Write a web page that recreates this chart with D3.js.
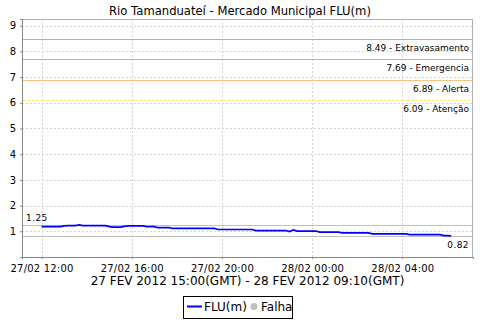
<!DOCTYPE html>
<html>
<head>
<meta charset="utf-8">
<script src="https://cdn.jsdelivr.net/npm/d3@7"></script>
<style>
  body { margin: 0; background: #fff; }
  text { font-family: "DejaVu Sans", sans-serif; }
</style>
</head>
<body>
<div id="chart"></div>
<script>
//Data
var times = ["2012-02-27T12:00", "2012-02-27T12:50", "2012-02-27T13:00", "2012-02-27T13:10",
  "2012-02-27T13:30", "2012-02-27T13:40", "2012-02-27T13:50", "2012-02-27T14:50",
  "2012-02-27T15:00", "2012-02-27T15:10", "2012-02-27T15:30", "2012-02-27T15:40",
  "2012-02-27T15:50", "2012-02-27T16:30", "2012-02-27T16:40", "2012-02-27T17:00",
  "2012-02-27T17:10", "2012-02-27T17:40", "2012-02-27T17:50", "2012-02-27T19:40",
  "2012-02-27T19:50", "2012-02-27T21:20", "2012-02-27T21:30", "2012-02-27T22:50",
  "2012-02-27T23:00", "2012-02-27T23:10", "2012-02-27T23:20", "2012-02-28T00:10",
  "2012-02-28T00:20", "2012-02-28T01:10", "2012-02-28T01:20", "2012-02-28T02:30",
  "2012-02-28T02:40", "2012-02-28T04:10", "2012-02-28T04:20", "2012-02-28T05:40",
  "2012-02-28T05:50", "2012-02-28T06:00", "2012-02-28T06:10"];
var levels = [1.18, 1.18, 1.21, 1.22,
  1.22, 1.25, 1.22, 1.22,
  1.18, 1.16, 1.16, 1.19,
  1.21, 1.21, 1.18, 1.18,
  1.14, 1.14, 1.11, 1.11,
  1.07, 1.07, 1.03, 1.03,
  0.99, 1.05, 1.01, 1.01,
  0.97, 0.97, 0.94, 0.94,
  0.90, 0.90, 0.87, 0.87,
  0.83, 0.83, 0.82];
var thresholdValues = [8.49, 7.69, 6.89, 6.09];
var thresholdNames = ["Extravasamento", "Emergencia", "Alerta", "Atenção"];
var thresholdColors = ["#f09696", "#ff80ff", "#ffc080", "#ffeb9a"];
var maxLevel = 1.25, minLevel = 0.82;
var yTicks = [1, 2, 3, 4, 5, 6, 7, 8, 9];
var xStart = "2012-02-27T11:08", xEnd = "2012-02-28T07:08";
var chartTitle = "Rio Tamanduateí - Mercado Municipal FLU(m)";
var xTitle = "27 FEV 2012 15:00(GMT) - 28 FEV 2012 09:10(GMT)";

//Sizes
var width = 480, height = 320;
var margin = { top: 19, right: 7, bottom: 63, left: 22 };
var plotW = width - margin.left - margin.right;
var plotH = height - margin.top - margin.bottom;

var parseTime = d3.utcParse("%Y-%m-%dT%H:%M");
var data = times.map(function(t, i) { return { date: parseTime(t), value: levels[i] }; });

var x = d3.scaleUtc()
        .domain([parseTime(xStart), parseTime(xEnd)])
        .range([0, plotW]);
var y = d3.scaleLinear()
        .domain([0, 9.26])
        .range([plotH, 0]);

var svg = d3.select("#chart").append("svg")
        .attr("width", width)
        .attr("height", height);

//Title
svg.append("text")
   .attr("x", width / 2)
   .attr("y", 15)
   .attr("text-anchor", "middle")
   .attr("font-size", 11.6)
   .attr("fill", "#000")
   .text(chartTitle);

var g = svg.append("g")
        .attr("transform", "translate(" + margin.left + "," + margin.top + ")");

g.append("rect")
 .attr("width", plotW)
 .attr("height", plotH)
 .attr("fill", "#fff");

//Grid lines
var xTicks = x.ticks(d3.utcHour.every(4));
g.append("g").selectAll("line")
 .data(xTicks)
 .enter()
 .append("line")
 .attr("x1", function(d) { return Math.round(x(d)) + 0.5; })
 .attr("x2", function(d) { return Math.round(x(d)) + 0.5; })
 .attr("y1", 0)
 .attr("y2", plotH)
 .attr("stroke", "#d4d4d4")
 .attr("stroke-dasharray", "2,2");
g.append("g").selectAll("line")
 .data(yTicks)
 .enter()
 .append("line")
 .attr("x1", 0)
 .attr("x2", plotW)
 .attr("y1", function(d) { return Math.round(y(d)) + 0.5; })
 .attr("y2", function(d) { return Math.round(y(d)) + 0.5; })
 .attr("stroke", "#d4d4d4")
 .attr("stroke-dasharray", "2,2");

//Threshold lines + labels
var thr = g.append("g").attr("class", "thresholds");
thr.selectAll("line")
   .data(thresholdValues)
   .enter()
   .append("line")
   .attr("x1", 0).attr("x2", plotW)
   .attr("y1", function(d) { return Math.round(y(d)) + 0.5; })
   .attr("y2", function(d) { return Math.round(y(d)) + 0.5; })
   .attr("stroke", function(d, i) { return thresholdColors[i]; });
thr.selectAll("text")
   .data(thresholdValues)
   .enter()
   .append("text")
   .attr("x", plotW - 4)
   .attr("y", function(d) { return Math.round(y(d)) + 11.5; })
   .attr("text-anchor", "end")
   .attr("font-size", 9)
   .attr("fill", "#000")
   .text(function(d, i) { return d.toFixed(2) + " - " + thresholdNames[i]; });

//Max / min markers
[maxLevel, minLevel].forEach(function(v, i) {
  var yy = Math.round(y(v)) + 0.5;
  g.append("line")
   .attr("x1", 0).attr("x2", plotW)
   .attr("y1", yy).attr("y2", yy)
   .attr("stroke", "#c0c0c0");
  g.append("text")
   .attr("x", i == 0 ? 4 : plotW - 4)
   .attr("y", i == 0 ? yy - 5 : yy + 11)
   .attr("text-anchor", i == 0 ? "start" : "end")
   .attr("font-size", 9)
   .attr("letter-spacing", 0.4)
   .attr("fill", "#000")
   .text(v.toFixed(2));
});

//Series
var line = d3.line()
        .x(function(d) { return x(d.date); })
        .y(function(d) { return y(d.value); });
g.append("path")
 .datum(data)
 .attr("d", line)
 .attr("fill", "none")
 .attr("stroke", "#0000ff")
 .attr("stroke-width", 1.7);

//Border
g.append("rect")
 .attr("x", 0.5).attr("y", 0.5)
 .attr("width", plotW - 1)
 .attr("height", plotH)
 .attr("fill", "none")
 .attr("stroke", "#b0b0b0");

//Axes
var xAxis = g.append("g")
        .attr("transform", "translate(0," + plotH + ")")
        .call(d3.axisBottom(x).tickValues(xTicks).tickSize(2).tickFormat(d3.utcFormat("%d/%m %H:%M")));
var yAxis = g.append("g")
        .call(d3.axisLeft(y).tickValues(yTicks).tickSize(2).tickFormat(d3.format("d")));
[xAxis, yAxis].forEach(function(a) {
  a.select(".domain").attr("stroke", "#888");
  a.selectAll(".tick line").attr("stroke", "#888");
  a.selectAll("text").attr("font-size", 10).attr("fill", "#000")
   .attr("font-family", "DejaVu Sans, sans-serif");
});
xAxis.selectAll("text").attr("dy", "0.95em").attr("letter-spacing", 0.2);
yAxis.selectAll("text").attr("dx", "-1px");

//X title
svg.append("text")
   .attr("x", margin.left + plotW / 2)
   .attr("y", 285)
   .attr("text-anchor", "middle")
   .attr("font-size", 12)
   .attr("fill", "#000")
   .text(xTitle);

//Legend
var legend = svg.append("g").attr("transform", "translate(183,296)");
legend.append("rect")
      .attr("x", 0.5).attr("y", 0.5)
      .attr("width", 109).attr("height", 22)
      .attr("fill", "#fff")
      .attr("stroke", "#000");
legend.append("line")
      .attr("x1", 4).attr("x2", 19)
      .attr("y1", 10.5).attr("y2", 10.5)
      .attr("stroke", "#0000ff")
      .attr("stroke-width", 2);
legend.append("text")
      .attr("x", 21).attr("y", 15)
      .attr("font-size", 12)
      .attr("fill", "#000")
      .text("FLU(m)");
legend.append("circle")
      .attr("cx", 71).attr("cy", 10.5)
      .attr("r", 3.5)
      .attr("fill", "#c0c0c0");
legend.append("text")
      .attr("x", 78).attr("y", 15)
      .attr("font-size", 12)
      .attr("fill", "#000")
      .text("Falha");
</script>
</body>
</html>
